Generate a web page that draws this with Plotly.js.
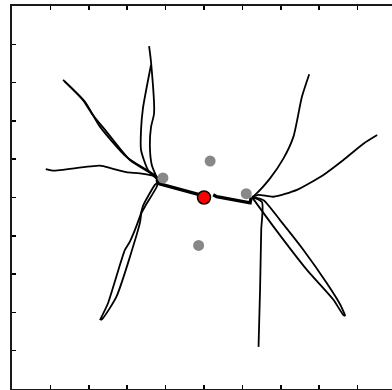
<!DOCTYPE html>
<html>
<head>
<meta charset="utf-8">
<script src="https://cdn.plot.ly/plotly-3.0.1.min.js"></script>
<style>html,body{margin:0;padding:0;overflow:hidden;background:#fff;}#chart{width:396px;height:390px;}</style>
</head>
<body>
<div id="chart"></div>
<script>
// Thin trajectory lines (data units)
const upLeftAX = [-1.20,-1.23,-2.02,-2.71,-3.10,-3.67];
const upLeftAY = [0.46,0.54,1.06,1.85,2.50,3.07];
const upLeftBX = [-1.20,-1.32,-1.93,-2.54,-2.93,-3.15,-3.63];
const upLeftBY = [0.46,0.59,0.98,1.72,2.20,2.54,3.03];
const leftHorizX = [-1.20,-1.23,-1.67,-2.02,-2.41,-2.71,-3.94,-4.12];
const leftHorizY = [0.46,0.54,0.63,0.66,0.76,0.83,0.70,0.74];
const upVertAX = [-1.20,-1.36,-1.41,-1.38,-1.30,-1.38,-1.43];
const upVertAY = [0.46,0.85,1.37,1.84,2.20,3.54,3.95];
const upVertBX = [-1.20,-1.46,-1.64,-1.64,-1.59,-1.38];
const upVertBY = [0.46,0.72,1.24,1.76,2.33,3.46];
const downLeftAX = [-1.20,-1.28,-1.58,-1.67,-1.93,-2.06,-2.50,-2.71];
const downLeftAY = [0.41,0.33,-0.20,-0.50,-1.15,-1.37,-2.76,-3.20];
const downLeftBX = [-1.20,-1.23,-1.54,-1.63,-1.67,-2.28,-2.63,-2.69];
const downLeftBY = [0.41,0.28,-0.24,-0.41,-0.67,-2.59,-3.15,-3.20];
const upRightX = [1.25,1.33,1.72,2.07,2.33,2.55,2.74];
const upRightY = [0.01,0.07,0.50,1.02,1.59,2.63,3.22];
const rightLongX = [1.25,1.42,1.81,2.42,3.11,3.63,4.16,4.51];
const rightLongY = [0.01,0.07,0.02,0.20,0.59,0.98,1.41,1.63];
const downVertX = [1.25,1.51,1.49,1.46,1.42];
const downVertY = [0.01,-0.12,-0.85,-2.41,-3.90];
const downRightAX = [1.25,1.55,1.98,2.59,3.20,3.55,3.68];
const downRightAY = [0.01,-0.07,-0.59,-1.37,-2.24,-2.80,-3.09];
const downRightBX = [1.25,1.81,2.68,3.37,3.63,3.68];
const downRightBY = [0.01,-0.76,-1.89,-2.67,-3.07,-3.09];
// Thick segments
const thickLeftX = [-1.22,-1.20,-0.10];
const thickLeftY = [0.47,0.37,0.07];
const thickRightX = [0.24,0.33,1.20,1.23];
const thickRightY = [0.07,0.02,-0.14,0.00];
// Points
const grayX = [0.16,-1.07,1.10,-0.14];
const grayY = [0.95,0.51,0.10,-1.25];
const redX = [0];
const redY = [0];

const thin = [
  [upLeftAX,upLeftAY],[upLeftBX,upLeftBY],[leftHorizX,leftHorizY],
  [upVertAX,upVertAY],[upVertBX,upVertBY],[downLeftAX,downLeftAY],
  [downLeftBX,downLeftBY],[upRightX,upRightY],[rightLongX,rightLongY],
  [downVertX,downVertY],[downRightAX,downRightAY],[downRightBX,downRightBY]
];
const traces = thin.map(p => ({x:p[0], y:p[1], mode:'lines', type:'scatter',
  line:{color:'#000', width:1.8, shape:'spline', smoothing:0.6}, hoverinfo:'skip'}));
traces.push({x:thickLeftX, y:thickLeftY, mode:'lines', line:{color:'#000', width:3.4}});
traces.push({x:thickRightX, y:thickRightY, mode:'lines', line:{color:'#000', width:3.4}});
traces.push({x:grayX, y:grayY, mode:'markers', marker:{color:'#888888', size:11}});
traces.push({x:redX, y:redY, mode:'markers', marker:{color:'#ff0000', size:13, line:{color:'#000', width:1.5}}});

const ax = {range:[-5,5], dtick:1, tick0:0, ticks:'inside', ticklen:4, tickwidth:1.5, tickcolor:'#000',
  mirror:'ticks', showline:true, linecolor:'#1a1a1a', linewidth:2, showgrid:false, zeroline:false,
  showticklabels:false, fixedrange:true};
const layout = {width:396, height:390, margin:{l:12, r:0, t:6, b:1}, showlegend:false,
  paper_bgcolor:'#fff', plot_bgcolor:'#fff', xaxis:Object.assign({}, ax), yaxis:Object.assign({}, ax)};
Plotly.newPlot('chart', traces, layout, {displayModeBar:false, staticPlot:true});
</script>
</body>
</html>
